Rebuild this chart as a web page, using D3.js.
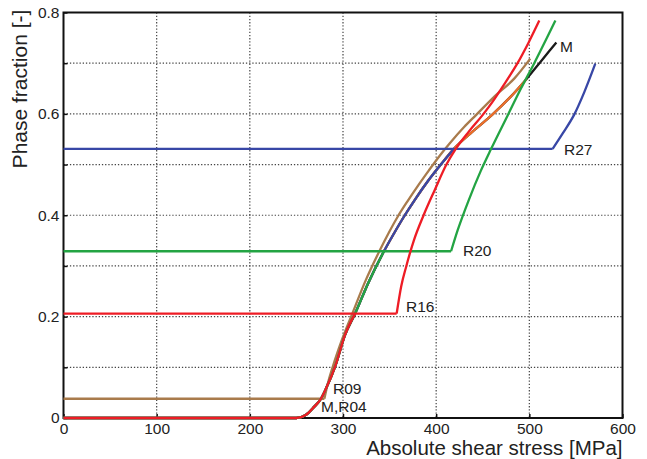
<!DOCTYPE html>
<html>
<head>
    <meta charset="utf-8">
    <title>Phase fraction vs shear stress</title>
    <style>
        body { margin: 0; background: #fff; }
        text { font-family: "Liberation Sans", Arial, sans-serif; fill: #222; }
    </style>
</head>
<body>
    <script src="https://cdnjs.cloudflare.com/ajax/libs/d3/7.9.0/d3.min.js"></script>
    <script>

        const width = 647;
        const height = 459;
        const margin = {top: 12.5, right: 24.5, bottom: 41, left: 63.5};

        // master curve (M) - absolute shear stress [MPa] / phase fraction [-]
        const masterStress = [0, 250, 260, 269, 276, 282, 292, 302, 313, 327, 344, 355, 366, 378, 391, 405, 419, 439, 460, 479, 497, 513, 529];
        const masterFrac   = [0, 0, 0.006, 0.022, 0.037, 0.059, 0.104, 0.163, 0.206, 0.266, 0.329, 0.365, 0.399, 0.433, 0.467, 0.5, 0.531, 0.565, 0.598, 0.632, 0.669, 0.705, 0.741];
        const r04End = 497;   // R04 follows the master curve up to this stress

        // reloading curves
        const r09Stress = [0, 280, 284, 289, 299, 310, 324, 339, 349, 359, 369, 380, 392, 404, 416, 430, 443, 463, 484, 501];
        const r09Frac   = [0.038, 0.038, 0.07, 0.101, 0.155, 0.206, 0.27, 0.329, 0.365, 0.398, 0.427, 0.457, 0.488, 0.518, 0.545, 0.574, 0.598, 0.635, 0.67, 0.709];

        const r16Stress = [0, 357.6, 362.5, 368, 376, 386.5, 398.5, 411, 421, 435, 450, 461, 470, 487, 499, 510.7];
        const r16Frac   = [0.206, 0.206, 0.26, 0.30, 0.35, 0.4, 0.45, 0.5, 0.531, 0.565, 0.598, 0.625, 0.65, 0.699, 0.74, 0.784];

        const r20Stress = [0, 416, 423, 435, 448, 459, 477, 491, 505, 528];
        const r20Frac   = [0.329, 0.329, 0.37, 0.43, 0.488, 0.531, 0.598, 0.65, 0.699, 0.784];

        const r27Stress = [0, 525, 536, 548, 559, 570.8];
        const r27Frac   = [0.531, 0.531, 0.562, 0.598, 0.643, 0.699];

        const xTicks = [0, 100, 200, 300, 400, 500, 600];
        const yTicks = [0, 0.1, 0.2, 0.3, 0.4, 0.5, 0.6, 0.7, 0.8];

        const labelText   = ["M", "R27", "R20", "R16", "R09", "M,R04"];
        const labelStress = [533, 537.2, 428.8, 367.6, 289.3, 276.4];
        const labelFrac   = [0.722, 0.519, 0.3196, 0.209, 0.0473, 0.0128];

        const zip = (a, b) => a.map((v, i) => [v, b[i]]);
        const master = zip(masterStress, masterFrac);

        // part of the master curve up to a given phase fraction
        function masterUpTo(level) {
            const out = [];
            for (let i = 0; i < master.length; i++) {
                if (master[i][1] <= level) { out.push(master[i]); continue; }
                const p = master[i - 1], q = master[i];
                const t = (level - p[1]) / (q[1] - p[1]);
                out.push([p[0] + t * (q[0] - p[0]), level]);
                break;
            }
            return out;
        }

        const svg = d3.select("body")
            .append("svg")
            .attr("width", width)
            .attr("height", height);

        const x = d3.scaleLinear().domain([0, 600]).range([margin.left, width - margin.right]);
        const y = d3.scaleLinear().domain([0, 0.8]).range([height - margin.bottom, margin.top]);

        // dotted grid
        svg.append("g")
            .selectAll("line")
            .data(xTicks.slice(1, -1))
            .join("line")
            .attr("x1", d => x(d)).attr("x2", d => x(d))
            .attr("y1", y(0.8)).attr("y2", y(0))
            .attr("stroke", "#444").attr("stroke-width", 1.2)
            .attr("stroke-dasharray", "1.3,1.9");

        svg.append("g")
            .selectAll("line")
            .data(yTicks.slice(1, -1))
            .join("line")
            .attr("x1", x(0)).attr("x2", x(600))
            .attr("y1", d => y(d)).attr("y2", d => y(d))
            .attr("stroke", "#444").attr("stroke-width", 1.2)
            .attr("stroke-dasharray", "1.3,1.9");

        // frame
        svg.append("rect")
            .attr("x", x(0)).attr("y", y(0.8))
            .attr("width", x(600) - x(0)).attr("height", y(0) - y(0.8))
            .attr("fill", "none").attr("stroke", "#111").attr("stroke-width", 2);

        // axes
        const xAxis = svg.append("g")
            .attr("transform", `translate(0,${y(0)})`)
            .call(d3.axisBottom(x).tickValues(xTicks).tickSize(-4).tickPadding(5).tickFormat(d3.format("d")));

        const yAxis = svg.append("g")
            .attr("transform", `translate(${x(0)},0)`)
            .call(d3.axisLeft(y).tickValues(yTicks).tickSize(-4).tickPadding(4)
                .tickFormat(d => Math.round(d * 10) % 2 === 0 ? (d === 0 ? "0" : d3.format(".1f")(d)) : ""));

        [xAxis, yAxis].forEach(a => {
            a.select(".domain").remove();
            a.selectAll(".tick line").attr("stroke", "#111").attr("stroke-width", 1.5);
            a.selectAll(".tick text").attr("font-size", "15.5px").attr("fill", "#222")
                .attr("font-family", "Liberation Sans, Arial, sans-serif");
        });

        const line = d3.line().x(d => x(d[0])).y(d => y(d[1]));
        const smooth = d3.line().x(d => x(d[0])).y(d => y(d[1])).curve(d3.curveMonotoneX);

        const g = svg.append("g").attr("fill", "none")
            .attr("stroke-width", 2.3).attr("stroke-linejoin", "round");

        function drawSeries(stress, frac, color) {
            const pts = zip(stress, frac);
            g.append("path").attr("d", smooth(masterUpTo(frac[0]))).attr("stroke", color);
            g.append("path").attr("d", line(pts.slice(0, 2))).attr("stroke", color);
            g.append("path").attr("d", smooth(pts.slice(1))).attr("stroke", color);
        }

        // M and R04
        g.append("path").attr("d", smooth(master)).attr("stroke", "#1a1a1a");
        g.append("path").attr("d", smooth(master.filter(d => d[0] <= r04End))).attr("stroke", "#ec6f2a");

        drawSeries(r09Stress, r09Frac, "#a97b4c");
        drawSeries(r27Stress, r27Frac, "#3847a6");
        drawSeries(r20Stress, r20Frac, "#23a443");
        drawSeries(r16Stress, r16Frac, "#ee1c25");

        // curve labels
        svg.append("g")
            .selectAll("text")
            .data(labelText)
            .join("text")
            .attr("x", (d, i) => x(labelStress[i]))
            .attr("y", (d, i) => y(labelFrac[i]))
            .attr("font-size", "15.5px")
            .text(d => d);

        // axis titles
        svg.append("text")
            .attr("x", x(600))
            .attr("y", 454.5)
            .attr("text-anchor", "end")
            .attr("font-size", "20.5px")
            .text("Absolute shear stress [MPa]");

        svg.append("text")
            .attr("transform", "translate(27,89) rotate(-90)")
            .attr("text-anchor", "middle")
            .attr("font-size", "21px")
            .text("Phase fraction [-]");

    </script>
</body>
</html>
